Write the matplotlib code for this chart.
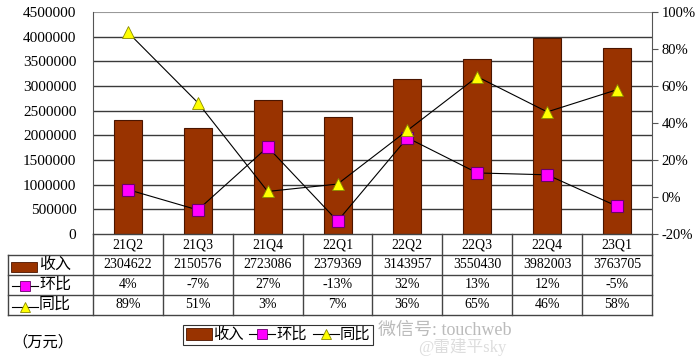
import matplotlib.pyplot as plt
import numpy as np
from matplotlib.patches import Rectangle
from matplotlib.lines import Line2D

plt.rcParams['font.family'] = ['Liberation Serif', 'Noto Sans CJK SC', 'DejaVu Sans']

# data
quarters = ['21Q2', '21Q3', '21Q4', '22Q1', '22Q2', '22Q3', '22Q4', '23Q1']
revenue = [2304622, 2150576, 2723086, 2379369, 3143957, 3550430, 3982003, 3763705]
qoq = [4, -7, 27, -13, 32, 13, 12, -5]    # 环比 %
yoy = [89, 51, 3, 7, 36, 65, 46, 58]      # 同比 %

bar_color = '#993300'
sq_color = '#FF00FF'
tri_color = '#FFFF00'
W, H = 700, 360


def px_box(x0, y0, x1, y1):
    # pixel box (top-left origin) -> figure fraction rect
    return [x0 / W, 1 - y1 / H, (x1 - x0) / W, (y1 - y0) / H]


fig = plt.figure(figsize=(7, 3.6), dpi=100)

# main chart
ax = fig.add_axes(px_box(93, 12, 652, 234))
x = np.arange(len(quarters))
ax.bar(x, revenue, width=0.4, color=bar_color, edgecolor='#4a1500', linewidth=0.8, zorder=3)
ax.set_xlim(-0.5, len(quarters) - 0.5)
ax.set_ylim(0, 4500000)
ax.set_yticks(np.arange(0, 4500001, 500000))
ax.set_yticklabels([str(v) for v in range(0, 4500001, 500000)], fontsize=11)
ax.set_xticks([])
ax.tick_params(axis='y', length=0, pad=12)
for v in range(500000, 4000001, 500000):
    ax.axhline(v, color='#3a3a3a', lw=1.0, zorder=1)
ax.axhline(4500000, color='#999999', lw=0.8, zorder=1)
for s in ['top', 'right', 'bottom']:
    ax.spines[s].set_visible(False)
ax.spines['left'].set_color('#555555')

ax2 = ax.twinx()
ax2.plot(x, qoq, color='black', lw=0.8, marker='s', ms=8.5, mfc=sq_color, mec='#6a006a', mew=0.8, zorder=4)
ax2.plot(x, yoy, color='black', lw=0.8, marker='^', ms=8.5, mfc=tri_color, mec='#8a8a00', mew=0.6, zorder=4)
ax2.set_ylim(-20, 100)
ax2.set_yticks(range(-20, 101, 20))
ax2.set_yticklabels([f'{v}%' for v in range(-20, 101, 20)], fontsize=10.5)
ax2.tick_params(axis='y', length=4, direction='out', pad=3, color='#555555')
for s in ['top', 'left', 'bottom']:
    ax2.spines[s].set_visible(False)
ax2.spines['right'].set_color('#555555')

# data table
tx0, tx1, ty0, ty1 = 8, 652, 234, 315
tab = fig.add_axes(px_box(tx0, ty0, tx1, ty1))
tab.set_xlim(tx0, tx1)
tab.set_ylim(ty1, ty0)
tab.axis('off')
col_x = np.linspace(93, 652, len(quarters) + 1)
row_y = [234, 255, 275, 295, 315]
lc = '#444444'
for yy in row_y:
    tab.plot([93 if yy == 234 else tx0, tx1], [yy, yy], color=lc, lw=1, clip_on=False)
for cx in col_x:
    tab.plot([cx, cx], [234, 315], color=lc, lw=1, clip_on=False)
tab.plot([tx0, tx0], [255, 315], color=lc, lw=1, clip_on=False)

rows = [[str(v) for v in revenue], [f'{v}%' for v in qoq], [f'{v}%' for v in yoy]]
centers = (col_x[:-1] + col_x[1:]) / 2
for i, q in enumerate(quarters):
    tab.text(centers[i], 245, q, ha='center', va='center', fontsize=10)
for r, vals in enumerate(rows):
    yc = (row_y[r + 1] + row_y[r + 2]) / 2
    for i, v in enumerate(vals):
        tab.text(centers[i], yc, v, ha='center', va='center', fontsize=10)

# row labels with key symbols
tab.add_patch(Rectangle((11, 262), 26, 10, facecolor=bar_color, edgecolor='#4a1500', lw=0.6))
tab.text(39, 265, '收入', ha='left', va='center', fontsize=11.5)
tab.plot([12, 38], [286, 286], color='black', lw=0.8)
tab.plot([25], [286], marker='s', ms=7, mfc=sq_color, mec='#6a006a', mew=0.6)
tab.text(39, 285, '环比', ha='left', va='center', fontsize=11.5)
tab.plot([12, 38], [307, 307], color='black', lw=0.8)
tab.plot([25], [307], marker='^', ms=7, mfc=tri_color, mec='#8a8a00', mew=0.6, clip_on=False)
tab.text(39, 305, '同比', ha='left', va='center', fontsize=11.5)

# legend
handles = [
    Rectangle((0, 0), 1, 1, facecolor=bar_color, edgecolor='#4a1500', lw=0.6),
    Line2D([], [], color='black', lw=0.8, marker='s', ms=7, mfc=sq_color, mec='#6a006a', mew=0.6),
    Line2D([], [], color='black', lw=0.8, marker='^', ms=7, mfc=tri_color, mec='#8a8a00', mew=0.6),
]
leg = fig.legend(handles, ['收入', '环比', '同比'], ncol=3, loc='center',
                 bbox_to_anchor=(278 / W, 1 - 335 / H), fontsize=11, frameon=True,
                 fancybox=False, edgecolor='black', handlelength=1.7, handleheight=0.8,
                 handletextpad=0.05, columnspacing=0.4, borderpad=0.2)
leg.get_frame().set_linewidth(0.8)

fig.text(12 / W, 1 - 342 / H, '（万元）', fontsize=11, ha='left', va='center')

# watermark
fig.text(378 / W, 1 - 330 / H, '微信号: touchweb', fontsize=13, color='#bbbbbb', ha='left', va='center')
fig.text(418 / W, 1 - 347 / H, '@雷建平sky', fontsize=12, color='#dddddd', ha='left', va='center')

fig.savefig('out.png', dpi=100)
